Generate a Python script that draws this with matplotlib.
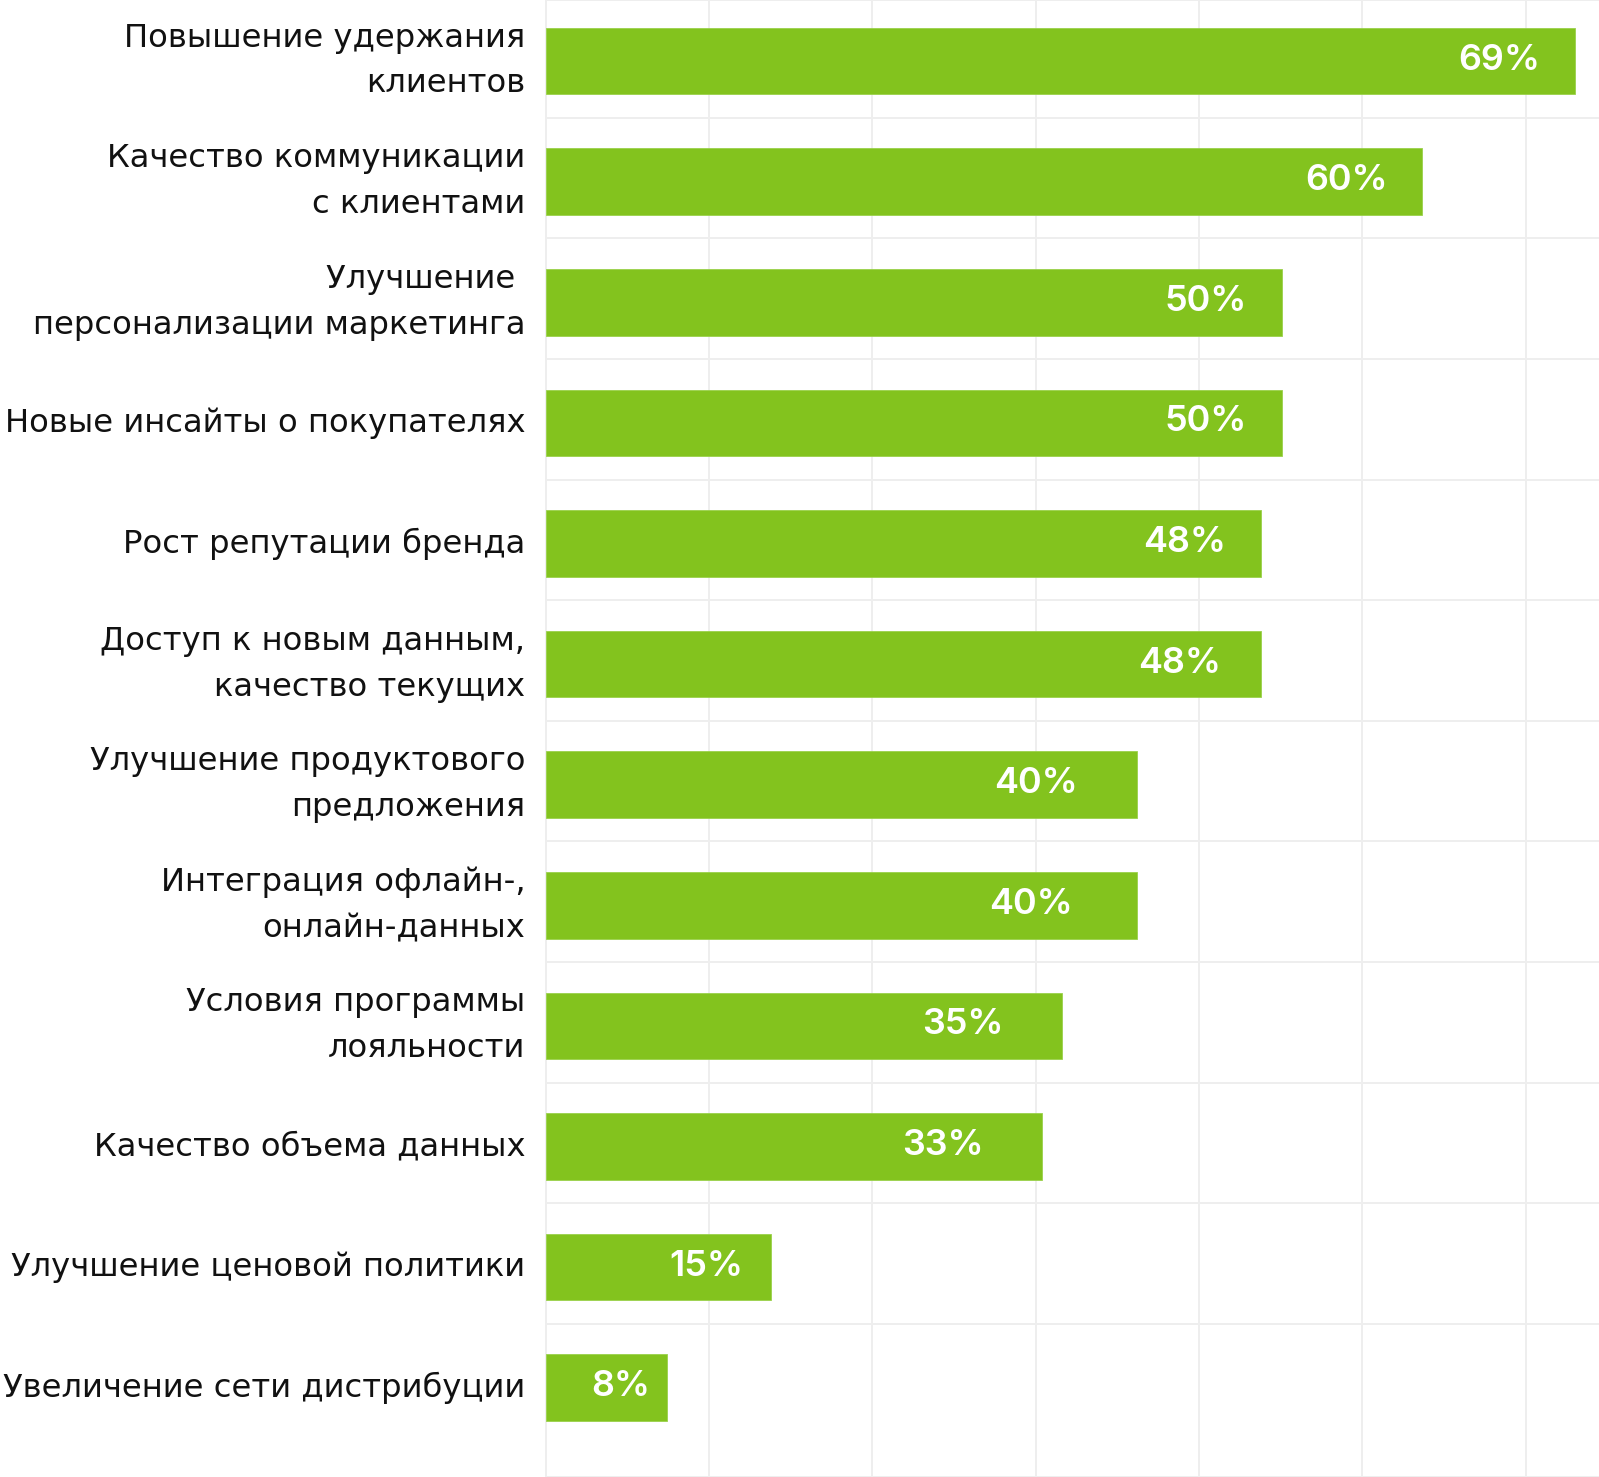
import numpy as np
import matplotlib.pyplot as plt

categories = [
    "Повышение удержания\nклиентов",
    "Качество коммуникации\nс клиентами",
    "Улучшение \nперсонализации маркетинга",
    "Новые инсайты о покупателях",
    "Рост репутации бренда",
    "Доступ к новым данным,\nкачество текущих",
    "Улучшение продуктового\nпредложения",
    "Интеграция офлайн-,\nонлайн-данных",
    "Условия программы\nлояльности",
    "Качество объема данных",
    "Улучшение ценовой политики",
    "Увеличение сети дистрибуции",
]
# bar lengths as drawn in the picture (labels are the rounded figures)
values = [69.3, 59.0, 49.6, 49.6, 48.2, 48.2, 39.8, 39.8, 34.8, 33.4, 15.2, 8.2]
value_labels = ["69%", "60%", "50%", "50%", "48%", "48%", "40%", "40%", "35%", "33%", "15%", "8%"]

# distance of each value label from the bar end, in pixels
label_gap_px = [34, 34, 35, 35, 35, 40, 59, 64, 59, 58, 28, 17]

green = "#83C31E"
grid_color = "#EEEEEE"
px = 72 / 100

plt.rcParams['font.family'] = ['Inter', 'DejaVu Sans']

fig = plt.figure(figsize=(15.99, 14.77), dpi=100)
ax = fig.add_axes([545.5 / 1599, 0, 1 - 545.5 / 1599, 1])

y = np.arange(len(categories))
ax.barh(y, values, height=0.553, color=green, edgecolor="#9AD14A", linewidth=0.6, zorder=3)

for yi, v, lab, gap in zip(y, values, value_labels, label_gap_px):
    ax.annotate(lab, (v, yi), xytext=(-gap * px, 1 * px), textcoords="offset points",
                ha="right", va="center", color="white", fontsize=36 * px,
                fontweight="semibold", zorder=4)

ax.set_xlim(0, 70.94)
ax.set_ylim(11.74, -0.506)

ax.set_xticks(np.arange(0, 67, 11))
ax.set_xticklabels([])
ax.set_yticks(y)
ax.set_yticklabels(categories, fontsize=32.3 * px, linespacing=1.62, color="#111111",
                   family=['DejaVu Sans'])
for t in ax.get_yticklabels():
    t.set_verticalalignment("center")
ax.set_yticks(np.arange(11) + 0.47, minor=True)
ax.tick_params(axis="both", which="both", length=0)
ax.tick_params(axis="y", pad=20 * px)

ax.grid(axis="x", which="major", color=grid_color, linewidth=2 * px, zorder=0)
ax.grid(axis="y", which="minor", color=grid_color, linewidth=2 * px, zorder=0)
ax.grid(axis="y", which="major", visible=False)

for side in ["top", "bottom", "left"]:
    ax.spines[side].set_color(grid_color)
    ax.spines[side].set_linewidth(2 * px)
ax.spines["right"].set_visible(False)

fig.savefig("out.png", dpi=100)
